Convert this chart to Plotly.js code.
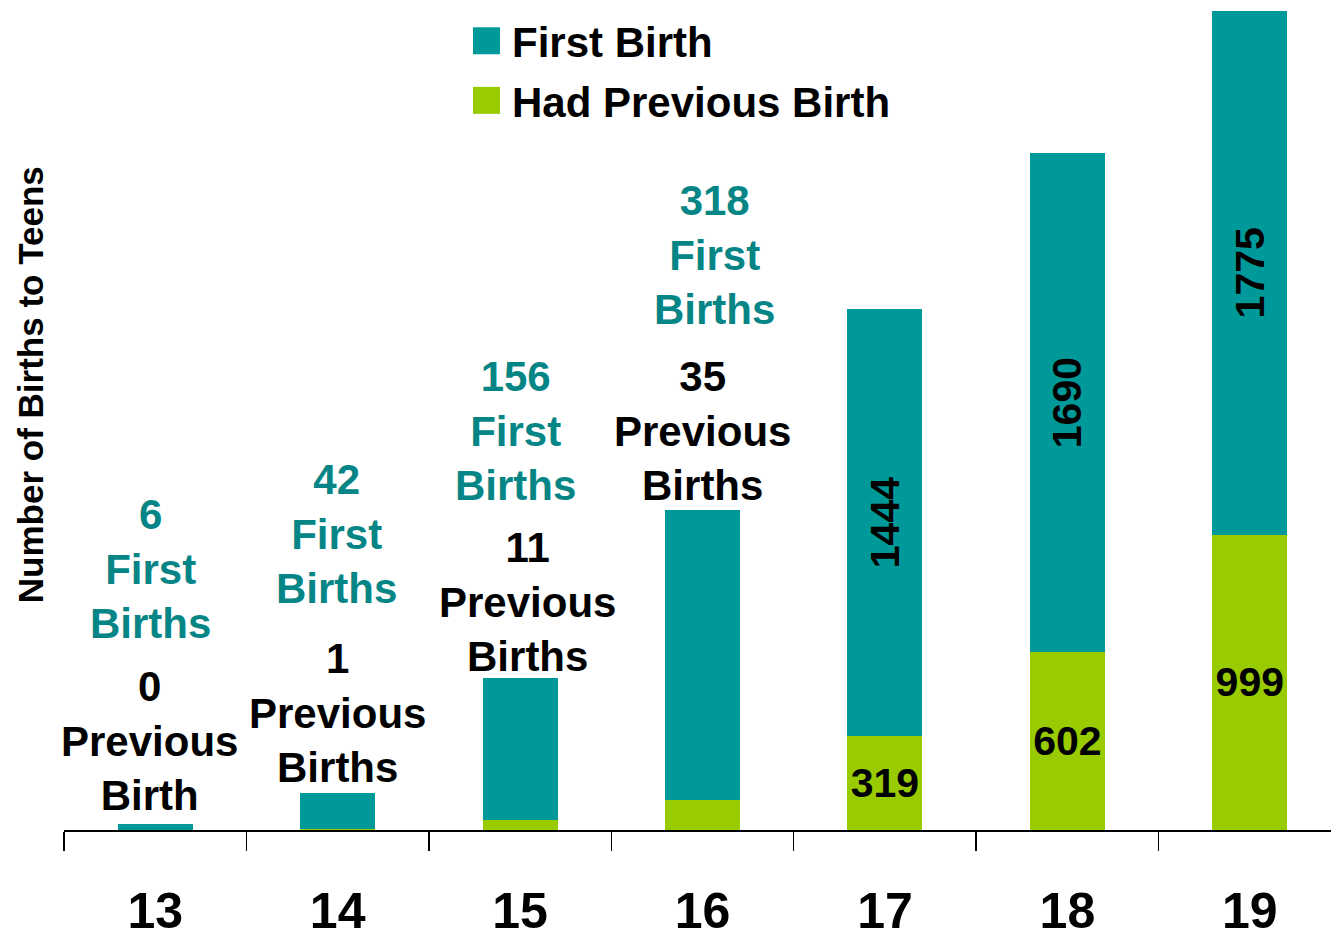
<!DOCTYPE html>
<html>
<head>
<meta charset="utf-8">
<script src="https://cdn.plot.ly/plotly-3.0.1.min.js"></script>
<style>
  html, body { margin: 0; padding: 0; background: #ffffff; }
  #chart { width: 1331px; height: 934px; }
</style>
</head>
<body>
<div id="chart"></div>
<script>
// ---- Data ----
const ages = ['13', '14', '15', '16', '17', '18', '19'];
// Counts printed in the labels
const firstBirthCounts = [6, 42, 156, 318, 1444, 1690, 1775];
const previousBirthCounts = [0, 1, 11, 35, 319, 602, 999];
// Bar segment heights as drawn (the drawn bars for ages 13-16 are taller than their labels)
const firstBarHeights = [20, 122, 481, 982, 1444, 1690, 1775];
const previousBarHeights = [0, 3, 34, 102, 319, 602, 999];
// Wording of the callouts above the short bars
const previousWord = ['Birth', 'Births', 'Births', 'Births'];

const TEAL = '#009999';
const GREEN = '#99CC00';
const TEAL_TEXT = '#058585';
const FONT = 'Liberation Sans, Arial, sans-serif';

const insideFirst = firstBirthCounts.map((v, i) => i >= 4 ? String(v) : '');
const insidePrev = previousBirthCounts.map((v, i) => i >= 4 ? String(v) : '');

const tracePrev = {
  type: 'bar', name: 'Had Previous Birth', x: ages, y: previousBarHeights,
  marker: { color: GREEN, line: { width: 0 } },
  text: insidePrev, textposition: 'inside', insidetextanchor: 'middle',
  textangle: 0, constraintext: 'none',
  textfont: { family: FONT, size: 41, color: '#000000', weight: 'bold' },
  hoverinfo: 'x+y', legendgroup: 'prev', legendrank: 2
};
const traceFirst = {
  type: 'bar', name: 'First Birth', x: ages, y: firstBarHeights,
  marker: { color: TEAL, line: { width: 0 } },
  text: insideFirst, textposition: 'inside', insidetextanchor: 'middle',
  textangle: -90, constraintext: 'none',
  textfont: { family: FONT, size: 41, color: '#000000', weight: 'bold' },
  hoverinfo: 'x+y', legendgroup: 'first', legendrank: 1
};

// Callout placement (pixel offsets from the top of each stacked bar)
const calloutFirstShift = [[-5, 255], [-1, 259], [-5, 247], [11.5, 255]];
const calloutPrevShift = [[-6, 83], [-0.5, 80.5], [7, 75.5], [-0.5, 79]];

const annotations = [];
for (let i = 0; i < 4; i++) {
  const total = firstBarHeights[i] + previousBarHeights[i];
  annotations.push({
    x: i, y: total, xref: 'x', yref: 'y', showarrow: false,
    xanchor: 'center', yanchor: 'middle',
    xshift: calloutFirstShift[i][0], yshift: calloutFirstShift[i][1],
    text: firstBirthCounts[i] + '<br>First<br>Births',
    font: { family: FONT, size: 42, color: TEAL_TEXT, weight: 'bold' }
  });
  annotations.push({
    x: i, y: total, xref: 'x', yref: 'y', showarrow: false,
    xanchor: 'center', yanchor: 'middle',
    xshift: calloutPrevShift[i][0], yshift: calloutPrevShift[i][1],
    text: previousBirthCounts[i] + '<br>Previous<br>' + previousWord[i],
    font: { family: FONT, size: 42, color: '#000000', weight: 'bold' }
  });
}
// y-axis title (rotated text, centred where the reference puts it)
annotations.push({
  xref: 'paper', yref: 'paper', x: -0.0268, y: 0.536,
  xanchor: 'center', yanchor: 'middle', showarrow: false, textangle: -90,
  text: 'Number of Births to Teens',
  font: { family: FONT, size: 35, color: '#000000', weight: 'bold' }
});

const layout = {
  width: 1331, height: 934,
  margin: { l: 64, r: 0, t: 0, b: 104, pad: 0 },
  paper_bgcolor: '#ffffff', plot_bgcolor: '#ffffff',
  barmode: 'stack', bargap: 0.589,
  font: { family: FONT, color: '#000000' },
  showlegend: true,
  legend: {
    x: 0.322, y: 0.9916, xanchor: 'left', yanchor: 'top',
    traceorder: 'grouped', tracegroupgap: 2,
    font: { family: FONT, size: 42, color: '#000000', weight: 'bold' },
    bgcolor: 'rgba(0,0,0,0)', borderwidth: 0
  },
  xaxis: {
    type: 'category', range: [-0.5, 6.445], fixedrange: true,
    showline: true, linecolor: '#000000', linewidth: 1.5,
    ticks: 'outside', tickson: 'boundaries', ticklen: 19, tickwidth: 1.5, tickcolor: '#000000',
    ticklabelstandoff: 36,
    tickfont: { family: FONT, size: 50, color: '#000000', weight: 'bold' },
    showgrid: false, zeroline: false
  },
  yaxis: {
    range: [0, 2810], fixedrange: true,
    showgrid: false, zeroline: false, showline: false,
    showticklabels: false, ticks: ''
  },
  annotations: annotations
};

Plotly.newPlot('chart', [tracePrev, traceFirst], layout, { displayModeBar: false, staticPlot: true })
  .then(function () {
    document.querySelectorAll('.legend .traces').forEach(function (g) {
      const txt = g.querySelector('text.legendtext');
      const tx = txt ? parseFloat(txt.getAttribute('x')) || 40 : 40;
      const cx = tx - 25.5, h = 13.5;
      g.querySelectorAll('.legendpoints path').forEach(function (p) {
        p.removeAttribute('transform');
        p.setAttribute('d', 'M' + (cx + h) + ',' + h + 'H' + (cx - h) + 'V' + (-h) + 'H' + (cx + h) + 'Z');
      });
    });
  });
</script>
</body>
</html>
